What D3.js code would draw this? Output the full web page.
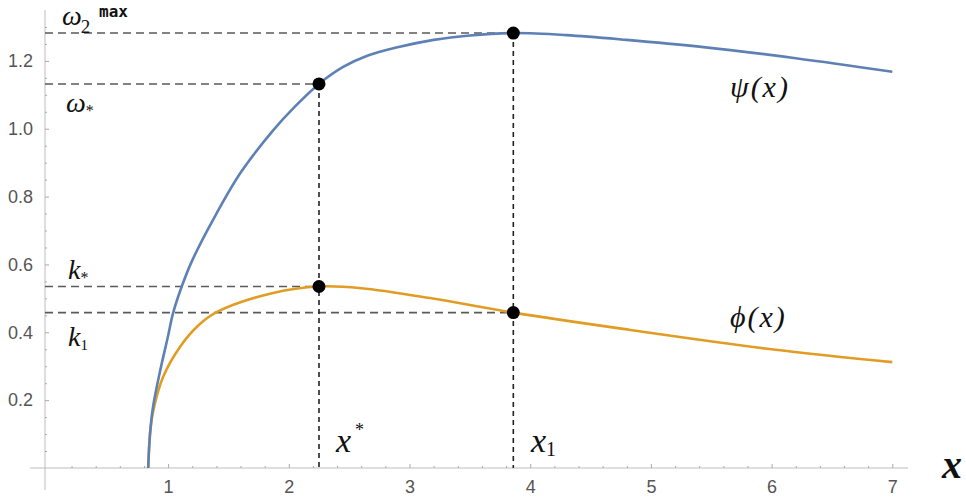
<!DOCTYPE html>
<html><head><meta charset="utf-8">
<script src="https://cdn.jsdelivr.net/npm/d3@7"></script>
<style>
html,body{margin:0;padding:0;background:#fff;}
svg{display:block;}
.tick text{font-family:"Liberation Sans",Arial,sans-serif;fill:#555;font-size:18px;}
.lab{font-family:"Liberation Serif","Times New Roman",serif;font-style:italic;fill:#111;}
</style></head><body>
<svg id="c" width="966" height="499"></svg>
<script>
// ---- data ----
const psiX = [0.835,0.85,0.875,0.93,1.0,1.04,1.115,1.2,1.37,1.6,1.87,2.05,2.25,2.45,2.65,2.9,3.2,3.5,3.86,4.3,4.8,5.4,6.2,7.0];
const psiY = [0,0.10,0.18,0.28,0.39,0.455,0.537,0.612,0.73,0.87,0.995,1.065,1.132,1.182,1.215,1.240,1.262,1.275,1.282,1.276,1.262,1.242,1.208,1.168];
const phiX = [0.835,0.85,0.875,0.958,1.098,1.25,1.405,1.87,2.25,2.6,3.17,3.86,4.83,6.0,7.0];
const phiY = [0,0.10,0.165,0.268,0.357,0.42,0.46,0.516,0.535,0.530,0.501,0.458,0.407,0.35,0.312];
const xStar = 2.25, x1 = 3.86;
const omegaMax = 1.282, omegaStar = 1.132, kStar = 0.535, k1 = 0.458;
const xTicks = [1,2,3,4,5,6,7];
const yTicks = [0.2,0.4,0.6,0.8,1.0,1.2];
const yTickLabels = ["0.2","0.4","0.6","0.8","1.0","1.2"];

const svg = d3.select("#c");
const x = d3.scaleLinear().domain([-0.02, 7.13]).range([45, 908]);
const y = d3.scaleLinear().domain([0, 1.35]).range([468, 10]);

// axes lines
svg.append("line").attr("x1",x(-0.02)).attr("x2",x(-0.02)).attr("y1",10).attr("y2",490).attr("stroke","#bdbdbd").attr("stroke-width",1);
svg.append("line").attr("x1",30).attr("x2",x(7.13)).attr("y1",y(0)).attr("y2",y(0)).attr("stroke","#bdbdbd").attr("stroke-width",1);

// minor ticks
const xMinor = d3.range(0.2, 7.1, 0.2).filter(v=>Math.abs(v-Math.round(v))>1e-6);
const yMinor = d3.range(0.05, 1.34, 0.05).filter(v=>Math.abs(v*5-Math.round(v*5))>1e-6);
const gxm = svg.append("g").attr("transform",`translate(0,${y(0)})`)
  .call(d3.axisBottom(x).tickValues(xMinor).tickSizeInner(-2).tickSizeOuter(0).tickFormat(""));
const gym = svg.append("g").attr("transform",`translate(${x(-0.02)},0)`)
  .call(d3.axisLeft(y).tickValues(yMinor).tickSizeInner(-2).tickSizeOuter(0).tickFormat(""));
// major ticks
const gx = svg.append("g").attr("transform",`translate(0,${y(0)})`)
  .call(d3.axisBottom(x).tickValues(xTicks).tickSizeInner(-4).tickSizeOuter(0).tickPadding(12).tickFormat(d3.format("d")));
const gy = svg.append("g").attr("transform",`translate(${x(-0.02)},0)`)
  .call(d3.axisLeft(y).tickValues(yTicks).tickSizeInner(-4).tickSizeOuter(0).tickPadding(12).tickFormat((d,i)=>yTickLabels[i]));
[gx,gy,gxm,gym].forEach(g=>{g.select(".domain").remove(); g.selectAll(".tick line").attr("stroke","#aaa");});

// dashed guide lines
const dashH = (val, xe) => svg.append("line").attr("x1",x(-0.02)).attr("x2",x(xe)).attr("y1",y(val)).attr("y2",y(val))
  .attr("stroke","#5a5a5a").attr("stroke-width",1.6).attr("stroke-dasharray","8,5");
dashH(omegaMax, x1); dashH(omegaStar, xStar); dashH(kStar, xStar); dashH(k1, x1);
const dashV = (xv, val) => svg.append("line").attr("x1",x(xv)).attr("x2",x(xv)).attr("y1",y(val)).attr("y2",y(0))
  .attr("stroke","#222").attr("stroke-width",1.6).attr("stroke-dasharray","5,4");
dashV(xStar, omegaStar); dashV(x1, omegaMax);

// curves
const line = d3.line().x(d=>x(d[0])).y(d=>y(d[1])).curve(d3.curveCatmullRom.alpha(0.5));
svg.append("path").datum(phiX.map((v,i)=>[v,phiY[i]])).attr("d",line).attr("fill","none").attr("stroke","#e19c24").attr("stroke-width",2.6);
svg.append("path").datum(psiX.map((v,i)=>[v,psiY[i]])).attr("d",line).attr("fill","none").attr("stroke","#5e81b5").attr("stroke-width",2.6);

// points
const pts = [[xStar,omegaStar],[x1,omegaMax],[xStar,kStar],[x1,k1]];
svg.selectAll("circle.p").data(pts).enter().append("circle").attr("class","p")
  .attr("cx",d=>x(d[0])).attr("cy",d=>y(d[1])).attr("r",6.5).attr("fill","#000");

// labels
const t1 = svg.append("text").attr("class","lab").attr("x",62).attr("y",25).attr("font-size",28);
t1.append("tspan").text("ω");
t1.append("tspan").attr("font-size",19).attr("font-style","normal").attr("dy",8).attr("dx",-1).text("2");
svg.append("text").attr("x",99).attr("y",17).attr("font-size",16).attr("font-weight","bold")
  .attr("font-family","DejaVu Sans Mono, monospace").attr("fill","#111").text("max");
const t2 = svg.append("text").attr("class","lab").attr("x",66).attr("y",112).attr("font-size",28);
t2.append("tspan").text("ω");
t2.append("tspan").attr("font-size",16).attr("font-style","normal").attr("dy",4).text("*");
const t3 = svg.append("text").attr("class","lab").attr("x",68).attr("y",279).attr("font-size",28);
t3.append("tspan").text("k");
t3.append("tspan").attr("font-size",16).attr("font-style","normal").attr("dy",4).text("*");
const t4 = svg.append("text").attr("class","lab").attr("x",68).attr("y",346).attr("font-size",28);
t4.append("tspan").text("k");
t4.append("tspan").attr("font-size",15).attr("font-style","normal").attr("dy",4).text("1");
const t5 = svg.append("text").attr("class","lab").attr("x",336).attr("y",452).attr("font-size",34);
t5.append("tspan").text("x");
t5.append("tspan").attr("font-size",18).attr("font-style","normal").attr("dy",-16).attr("dx",4).text("*");
const t6 = svg.append("text").attr("class","lab").attr("x",531).attr("y",452).attr("font-size",34);
t6.append("tspan").text("x");
t6.append("tspan").attr("font-size",20).attr("font-style","normal").attr("dy",4).text("1");
svg.append("text").attr("class","lab").attr("x",942).attr("y",478).attr("font-size",40).attr("font-weight","bold").text("x");
svg.append("text").attr("class","lab").attr("x",730).attr("y",97).attr("font-size",30).attr("letter-spacing",2).text("ψ(x)");
svg.append("text").attr("class","lab").attr("x",730).attr("y",327).attr("font-size",30).attr("letter-spacing",2).text("ϕ(x)");
</script>
</body></html>
